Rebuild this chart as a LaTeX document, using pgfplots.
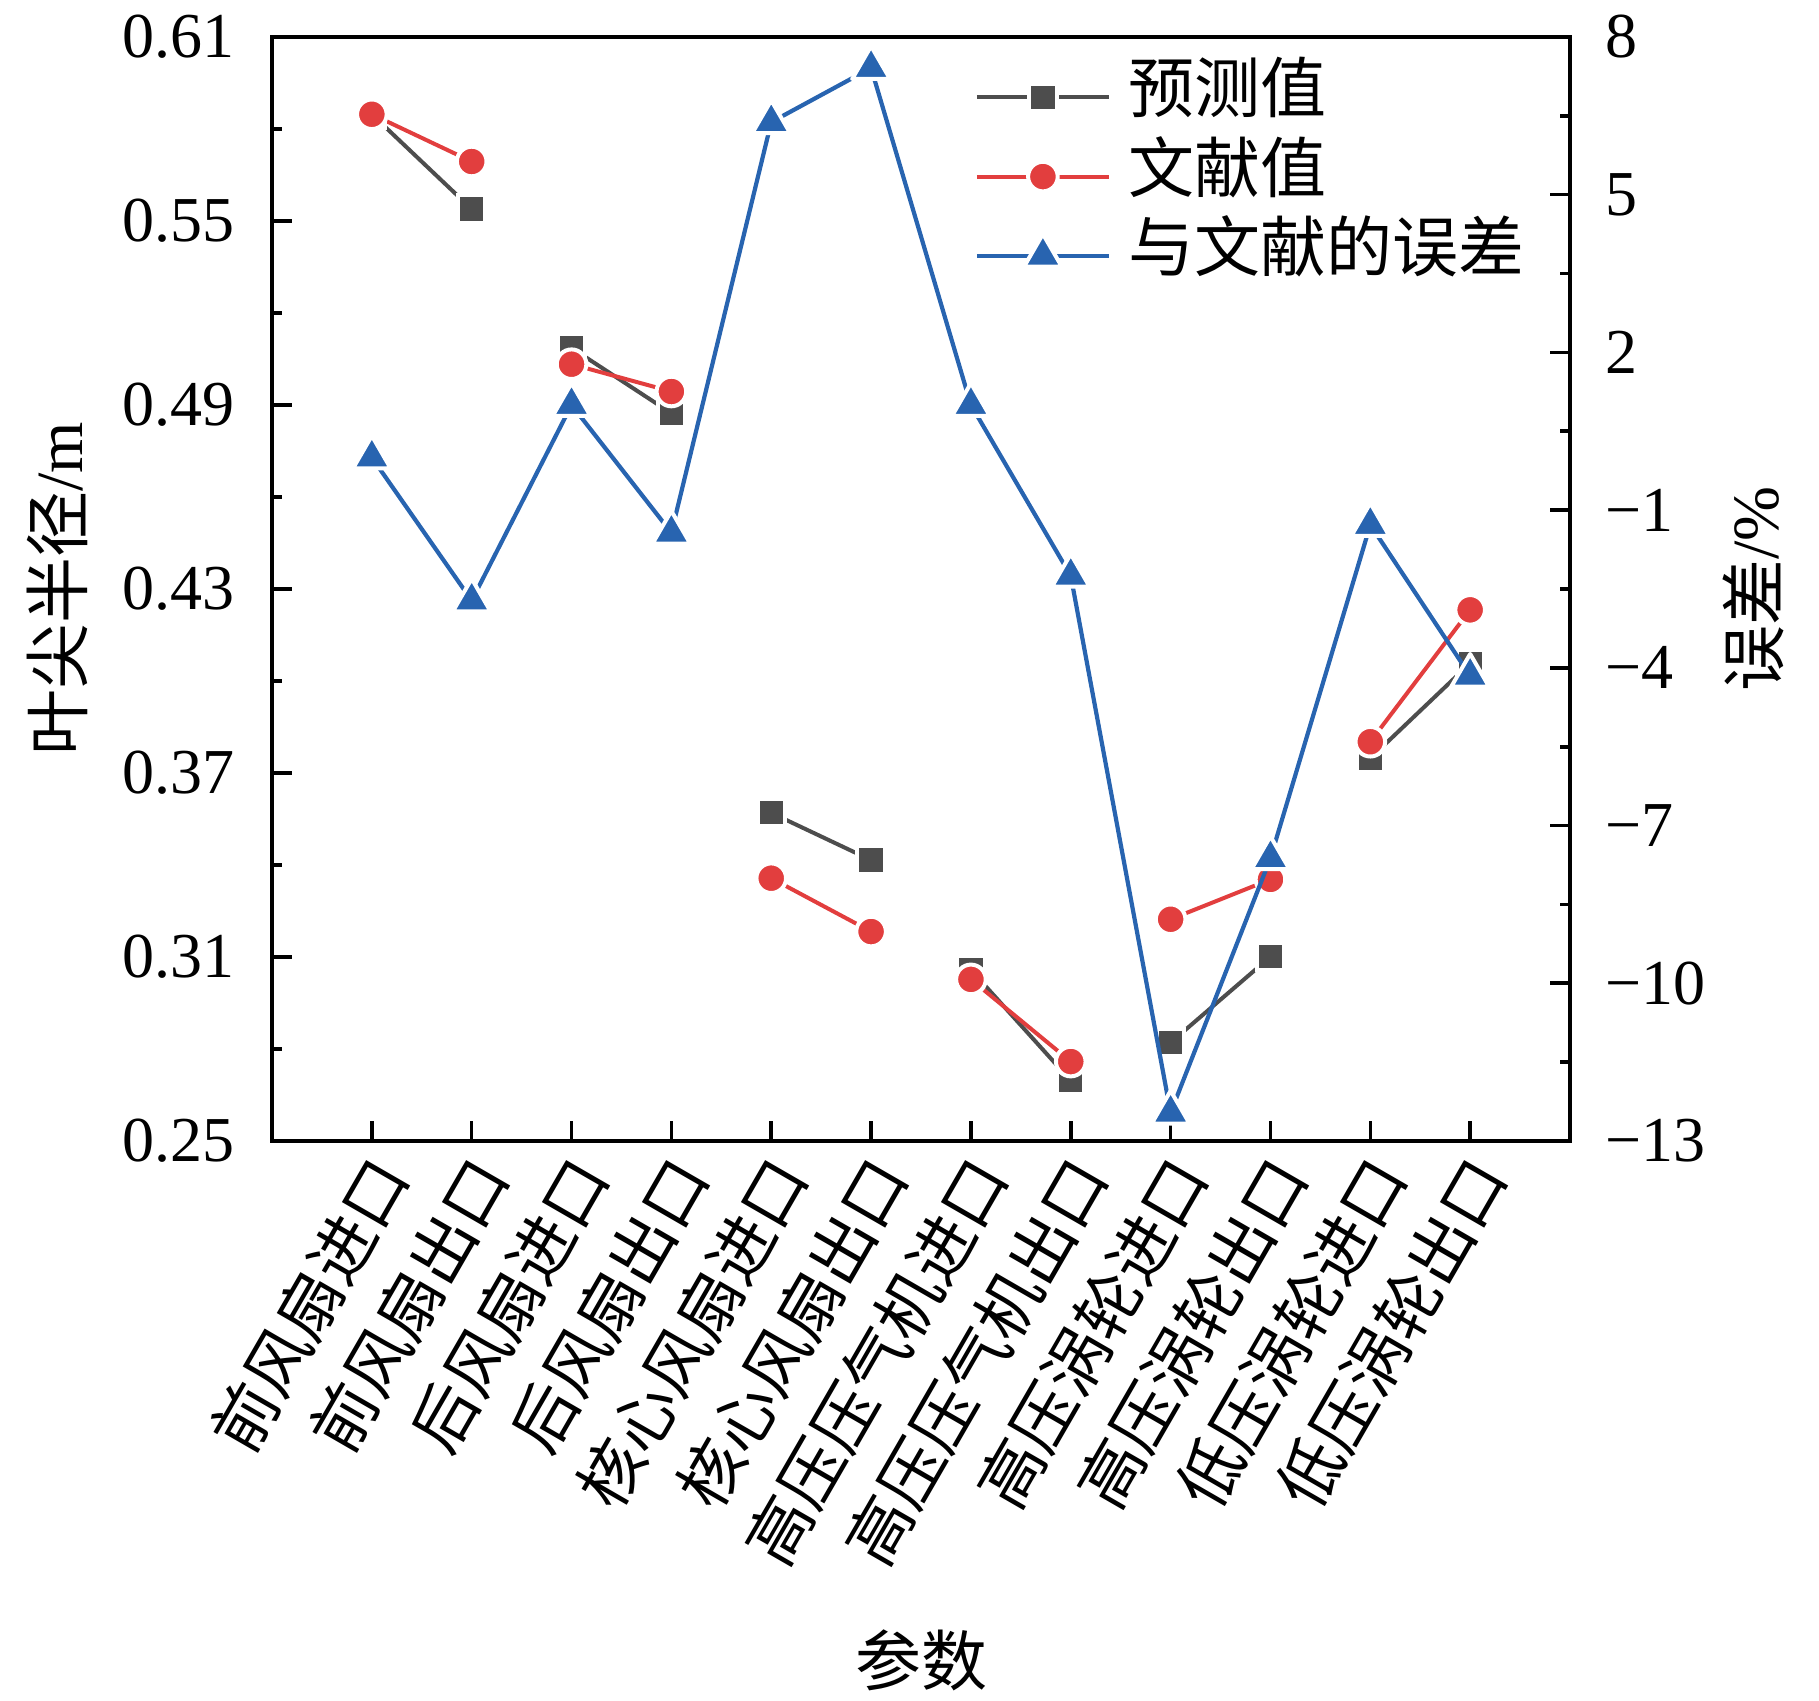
\documentclass[border=0pt]{standalone}
\usepackage{fontspec}
\usepackage{pgfplots}
\usepackage{pgfplotstable}
\pgfplotsset{compat=1.18}
\setmainfont{Liberation Serif}
\newfontfamily\cjk{Noto Sans CJK SC}
\definecolor{cgray}{RGB}{77,77,77}
\definecolor{cred}{RGB}{226,62,62}
\definecolor{cblue}{RGB}{40,100,176}

\pgfplotstableread{
x pred lit
0 0.5848 0.5848
1 0.5539 0.5694
1.5 nan nan
2 0.5086 0.5033
3 0.4873 0.4944
3.5 nan nan
4 0.3570 0.3357
5 0.3416 0.3183
5.5 nan nan
6 0.3058 0.3027
7 0.2697 0.2759
7.5 nan nan
8 0.2821 0.3223
9 0.3101 0.3353
9.5 nan nan
10 0.3748 0.3802
11 0.4058 0.4232
}\tabA

\pgfplotstableread{
x err
0 0.00
1 -2.72
2 1.00
3 -1.43
4 6.38
5 7.41
6 1.00
7 -2.25
8 -12.46
9 -7.62
10 -1.28
11 -4.15
}\tabB

\pgfplotsset{
  gstyle/.style={color=cgray, line width=1pt, mark=square*, mark size=3.4pt,
    mark options={draw=white, fill=cgray, line width=1pt, solid}},
  rstyle/.style={color=cred, line width=1pt, mark=*, mark size=3.7pt,
    mark options={draw=white, fill=cred, line width=1pt, solid}},
  bstyle/.style={color=cblue, line width=1.05pt, mark=triangle*, mark size=5.45pt,
    mark options={draw=white, fill=cblue, line width=1pt, solid, line join=round}},
  common/.style={
    at={(0pt,0pt)}, anchor=south west,
    scale only axis, width=324.5pt, height=276pt,
    xmin=-1, xmax=12,
    tick align=inside,
    major tick length=5pt, minor tick length=2.5pt,
    axis line style={line width=0.9pt, black},
    major tick style={line width=0.9pt, black},
    minor tick style={line width=0.9pt, black},
    legend image code/.code={\draw[mark repeat=2, mark phase=2] plot coordinates {(0pt,0pt) (16.5pt,0pt) (33pt,0pt)};},
  },
}

\begin{document}
\begin{tikzpicture}
\begin{axis}[
  common,
  ymin=0.25, ymax=0.61,
  unbounded coords=jump,
  xtick={0,...,11},
  xticklabels={前风扇进口,前风扇出口,后风扇进口,后风扇出口,核心风扇进口,核心风扇出口,高压压气机进口,高压压气机出口,高压涡轮进口,高压涡轮出口,低压涡轮进口,低压涡轮出口},
  ytick={0.25,0.31,0.37,0.43,0.49,0.55,0.61},
  yticklabels={0.25,0.31,0.37,0.43,0.49,0.55,0.61},
  minor ytick={0.28,0.34,0.40,0.46,0.52,0.58},
  xtick pos=left, ytick pos=left,
  yticklabel style={font=\fontsize{16}{16}\selectfont, anchor=east, inner sep=0pt, xshift=-9.25pt},
  xticklabel style={font=\cjk\fontsize{16.2}{16.2}\selectfont, inner sep=0pt, xshift=4.8pt, yshift=-5.8pt, rotate=60, anchor=east},
  every axis y label/.style={at={(rel axis cs:0,0.5)}, xshift=-53.75pt, rotate=90, anchor=center},
  every axis x label/.style={at={(rel axis cs:0.5,0)}, yshift=-129.75pt, anchor=center},
  ylabel={\fontsize{16.5}{16.5}\selectfont{\cjk 叶尖半径}/m},
  xlabel={\fontsize{16.5}{16.5}\selectfont\cjk 参数},
]
\addplot[gstyle] table[x=x, y=pred] {\tabA};
\addplot[rstyle] table[x=x, y=lit] {\tabA};
\end{axis}
\begin{axis}[
  common,
  ymin=-13, ymax=8,
  hide x axis,
  ytick={-13,-10,-7,-4,-1,2,5,8},
  yticklabels={−13,−10,−7,−4,−1,2,5,8},
  minor ytick={-11.5,-8.5,-5.5,-2.5,0.5,3.5,6.5},
  ytick pos=right, yticklabel pos=right,
  yticklabel style={font=\fontsize{16}{16}\selectfont, anchor=west, inner sep=0pt, xshift=8.75pt},
  every axis y label/.style={at={(rel axis cs:1,0.5)}, xshift=45.75pt, rotate=90, anchor=center},
  ylabel={\fontsize{16.5}{16.5}\selectfont{\cjk 误差}/\%},
  legend cell align=left,
  legend style={at={(axis description cs:0,1)}, anchor=north west, xshift=175.5pt, yshift=-5pt,
    draw=none, fill=none, inner sep=0pt,
    font=\cjk\fontsize{16.5}{16.5}\selectfont,
    nodes={inner sep=0pt, text height=13.8pt, text depth=6pt},
    /tikz/every odd column/.append style={column sep=4.4pt}},
]
\addlegendimage{gstyle}
\addlegendentry{预测值}
\addlegendimage{rstyle}
\addlegendentry{文献值}
\addplot[bstyle] table[x=x, y=err] {\tabB};
\addlegendentry{与文献的误差}
\end{axis}
\pgfresetboundingbox
\useasboundingbox (-68pt,-140pt) rectangle (386.75pt,285.25pt);
\end{tikzpicture}
\end{document}
